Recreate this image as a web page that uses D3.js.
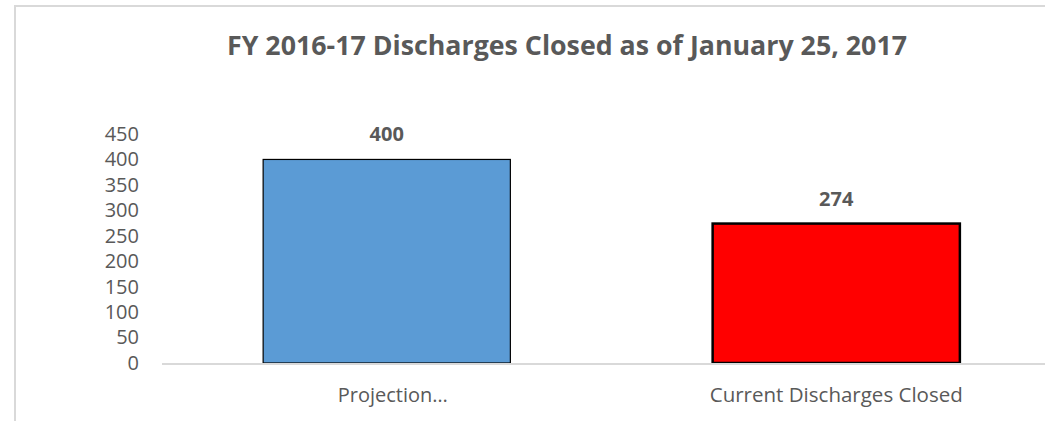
<!DOCTYPE html>
<html lang="en">
<head>
    <meta charset="UTF-8">
    <title>FY 2016-17 Discharges Closed</title>
    <script src="https://d3js.org/d3.v7.min.js"></script>
    <style>
        body, html {
            margin: 0;
            padding: 0;
            overflow: hidden;
            background: #fff;
        }
        svg { display: block; }
        text { font-family: "Open Sans", "Noto Sans", sans-serif; fill: #595959; }
    </style>
</head>
<body>
    <svg width="1045" height="421"></svg>

    <script>
        const categories = ["Projection\u2026", "Current Discharges Closed"];
        const values = [400, 274];
        const barColors = ["#5B9BD5", "#FF0000"];
        const barStrokes = [1.2, 2.5];
        const yTicks = [0, 50, 100, 150, 200, 250, 300, 350, 400, 450];
        const title = "FY 2016-17 Discharges Closed as of January 25, 2017";

        const svg = d3.select("svg");

        // chart frame (right / bottom edges fall outside the picture)
        svg.append("rect")
            .attr("x", 15).attr("y", 6)
            .attr("width", 1100).attr("height", 500)
            .attr("fill", "#fff")
            .attr("stroke", "#d9d9d9")
            .attr("stroke-width", 2);

        const plot = { left: 162, right: 1061, top: 134, bottom: 363 };

        const x = d3.scaleBand()
            .domain(categories)
            .range([plot.left, plot.right])
            .paddingInner(0.45)
            .paddingOuter(0.225);

        const y = d3.scaleLinear()
            .domain([0, 450])
            .range([plot.bottom, plot.top]);

        // title - squeeze the glyphs a little, Calibri is narrower than Open Sans
        svg.append("text")
            .attr("x", 567).attr("y", 55)
            .attr("text-anchor", "middle")
            .attr("font-size", 26.5)
            .attr("font-weight", "bold")
            .attr("textLength", 680)
            .attr("lengthAdjust", "spacingAndGlyphs")
            .text(title);

        // y axis labels
        const yAxis = d3.axisLeft(y).tickValues(yTicks).tickSize(0).tickPadding(0);
        const gy = svg.append("g")
            .attr("transform", `translate(139,0)`)
            .call(yAxis);
        gy.select(".domain").remove();
        gy.selectAll("text")
            .attr("font-size", 20)
            .attr("font-family", "'Open Sans', sans-serif")
            .attr("fill", "#595959");

        // bars
        svg.selectAll("rect.bar")
            .data(values)
            .enter().append("rect")
            .attr("class", "bar")
            .attr("x", (d, i) => x(categories[i]))
            .attr("y", d => y(d))
            .attr("width", x.bandwidth())
            .attr("height", d => y(0) - y(d))
            .attr("fill", (d, i) => barColors[i])
            .attr("stroke", "#000")
            .attr("stroke-width", (d, i) => barStrokes[i]);

        // baseline
        svg.append("line")
            .attr("x1", plot.left).attr("x2", 1045)
            .attr("y1", y(0) + 1).attr("y2", y(0) + 1)
            .attr("stroke", "#d9d9d9")
            .attr("stroke-width", 2);

        // data labels
        svg.selectAll("text.val")
            .data(values)
            .enter().append("text")
            .attr("class", "val")
            .attr("x", (d, i) => x(categories[i]) + x.bandwidth() / 2)
            .attr("y", d => y(d) - 18)
            .attr("text-anchor", "middle")
            .attr("font-size", 20)
            .attr("font-weight", "bold")
            .text(d => d);

        // category labels
        const catWidths = [110, 253];
        svg.selectAll("text.cat")
            .data(categories)
            .enter().append("text")
            .attr("class", "cat")
            .attr("x", (d, i) => x(d) + x.bandwidth() / 2 + (i === 0 ? 6 : 0))
            .attr("y", 402)
            .attr("text-anchor", "middle")
            .attr("font-size", 20)
            .attr("textLength", (d, i) => catWidths[i])
            .attr("lengthAdjust", "spacingAndGlyphs")
            .text(d => d);
    </script>
</body>
</html>
